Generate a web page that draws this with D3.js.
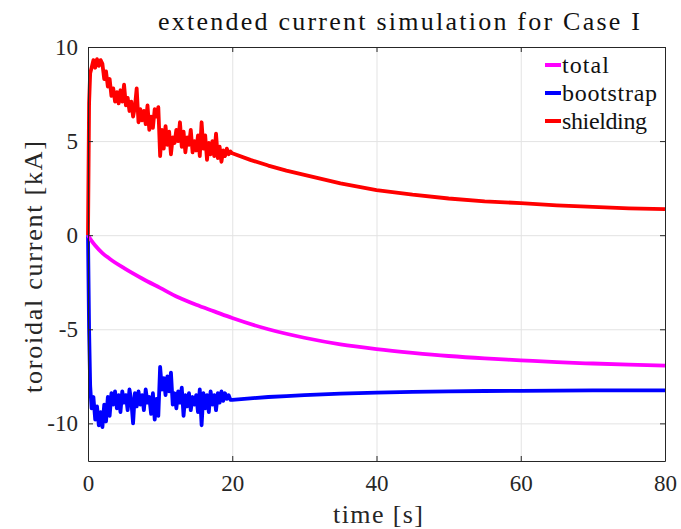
<!DOCTYPE html>
<style>
body { margin: 0; background: #fff; }
svg text { font-family: "Liberation Serif", "DejaVu Serif", serif; }
.grid line { stroke: #e3e3e3; stroke-width: 1; }
.grid .domain { display: none; }
.axis text { font-size: 23px; fill: #262626; font-family: "Liberation Serif", serif; }
.axis line, .axis path { stroke: #262626; }
</style>
<svg width="681" height="529"></svg>
<script src="https://d3js.org/d3.v7.min.js"></script>
<script>
// time samples of the noisy phase (0 - 19.5 s) and the smooth decay after it
var timeEarly = [0, 0.15, 0.3, 0.5, 0.75, 1, 1.25, 1.5, 1.75, 2, 2.25, 2.5, 2.75, 3, 3.25, 3.5, 3.75, 4,
    4.25, 4.5, 4.75, 5, 5.25, 5.5, 5.75, 6, 6.25, 6.5, 6.75, 7, 7.25, 7.5, 7.75, 8, 8.25, 8.5, 8.75, 9,
    9.25, 9.5, 9.75, 10, 10.25, 10.5, 10.75, 11, 11.25, 11.5, 11.75, 12, 12.25, 12.5, 12.75, 13, 13.25,
    13.5, 13.75, 14, 14.25, 14.5, 14.75, 15, 15.25, 15.5, 15.75, 16, 16.25, 16.5, 16.75, 17, 17.25, 17.5,
    17.75, 18, 18.25, 18.5, 18.75, 19, 19.25, 19.5];
var timeLate = [19.75, 20, 22.5, 25, 27.5, 30, 35, 40, 45, 50, 55, 60, 65, 70, 75, 80];

var shieldingEarly = [0, 7.0, 8.6, 8.9, 9.3, 8.9, 9.35, 9.0, 9.3, 9.1, 8.3, 8.7, 7.9, 8.3, 7.4, 7.8, 7.1, 7.6,
    7.0, 7.7, 7.1, 8.0, 6.9, 7.3, 6.6, 7.1, 6.3, 6.8, 7.8, 6.0, 6.7, 6.1, 6.6, 5.9, 6.9, 5.6, 6.3, 5.7,
    6.7, 6.3, 6.8, 4.2, 5.6, 4.6, 5.8, 4.8, 5.5, 4.3, 5.2, 4.9, 5.6, 5.0, 6.0, 4.7, 5.5,
    4.4, 5.2, 4.8, 5.6, 4.4, 5.0, 4.5, 5.3, 4.2, 6.0, 4.6, 5.3, 4.0, 4.9, 4.3, 5.0, 4.2,
    5.4, 4.1, 4.7, 3.9, 4.5, 4.2, 4.6, 4.3];
var shieldingLate = [4.45, 4.35, 4.0, 3.7, 3.43, 3.2, 2.75, 2.4, 2.15, 1.95, 1.8, 1.7, 1.58, 1.5, 1.42, 1.38];

var bootstrapEarly = [0, -5.0, -8.0, -9.2, -8.6, -9.8, -9.1, -10.1, -9.4, -10.2, -9.0, -9.9, -8.6, -9.6, -8.4, -9.0, -8.3, -9.2,
    -8.5, -9.4, -8.3, -8.9, -8.5, -9.3, -8.2, -8.8, -10.0, -8.4, -9.1, -8.3, -9.0, -8.5, -9.3, -8.2, -8.9, -8.6, -9.5, -8.4,
    -9.8, -8.7, -9.6, -7.0, -8.2, -7.6, -8.5, -7.5, -8.3, -7.3, -9.0, -8.4, -9.2, -8.3, -8.9, -8.1, -9.6,
    -8.5, -9.1, -8.4, -9.3, -8.6, -9.0, -8.5, -9.4, -8.2, -10.1, -8.4, -9.2, -8.5, -9.4, -8.3, -9.0, -8.5,
    -9.3, -8.4, -8.9, -8.3, -8.8, -8.4, -8.7, -8.5];
var bootstrapLate = [-8.75, -8.75, -8.67, -8.6, -8.55, -8.5, -8.42, -8.37, -8.33, -8.3, -8.28, -8.27, -8.26, -8.25, -8.25, -8.25];

var timeTotal = [0, 0.5, 1, 2, 3, 5, 7.5, 10, 12.5, 15, 17.5, 20, 25, 30, 35, 40, 45, 50, 55, 60, 65, 70, 75, 80];
var total = [0, -0.3, -0.55, -0.95, -1.25, -1.75, -2.3, -2.8, -3.3, -3.7, -4.05, -4.4, -5.0, -5.45, -5.8, -6.05,
    -6.25, -6.42, -6.55, -6.65, -6.75, -6.82, -6.88, -6.93];

var xTicks = [0, 20, 40, 60, 80];
var yTicks = [-10, -5, 0, 5, 10];
var legendNames = ["total", "bootstrap", "shielding"];
var legendWidths = [47, 95, 85];
var colors = ["#ff00ff", "#0000ff", "#ff0000"];

var svg = d3.select("svg"),
    margin = {top: 47, right: 15, bottom: 68, left: 88},
    width = 681, height = 529;

var x = d3.scaleLinear().domain([0, 80]).range([margin.left, width - margin.right - 1]);
var y = d3.scaleLinear().domain([-12, 10]).range([height - margin.bottom, margin.top]);

// grid
svg.append("g").attr("class", "grid")
    .attr("transform", "translate(0," + (height - margin.bottom) + ")")
    .call(d3.axisBottom(x).tickValues(xTicks).tickSize(-(y.range()[0] - y.range()[1])).tickFormat(""));
svg.append("g").attr("class", "grid")
    .attr("transform", "translate(" + margin.left + ",0)")
    .call(d3.axisLeft(y).tickValues(yTicks).tickSize(-(x.range()[1] - x.range()[0])).tickFormat(""));

function zip(ts, vs) { return ts.map(function(t, i) { return [t, vs[i]]; }); }

var series = [
    zip(timeTotal, total),
    zip(timeEarly.concat(timeLate), bootstrapEarly.concat(bootstrapLate)),
    zip(timeEarly.concat(timeLate), shieldingEarly.concat(shieldingLate))
];

var line = d3.line()
    .x(function(d) { return x(d[0]); })
    .y(function(d) { return y(d[1]); });

var drawOrder = [2, 1, 0];
drawOrder.forEach(function(i) {
    svg.append("path")
        .datum(series[i])
        .attr("fill", "none")
        .attr("stroke", colors[i])
        .attr("stroke-width", 3.8)
        .attr("stroke-linejoin", "round")
        .attr("d", i === 0 ? line.curve(d3.curveMonotoneX)(series[i]) : line.curve(d3.curveLinear)(series[i]));
});

// axes, ticks inward like matlab
var fmt = function(d) { return d < 0 ? "-" + Math.abs(d) : d; };
svg.append("g").attr("class", "axis")
    .attr("transform", "translate(0," + (height - margin.bottom) + ")")
    .call(d3.axisBottom(x).tickValues(xTicks).tickSizeInner(-5).tickSizeOuter(0).tickPadding(14));
svg.append("g").attr("class", "axis")
    .attr("transform", "translate(" + margin.left + ",0)")
    .call(d3.axisLeft(y).tickValues(yTicks).tickFormat(fmt).tickSizeInner(-5).tickSizeOuter(0).tickPadding(10));
svg.append("g").attr("class", "axis")
    .attr("transform", "translate(0," + margin.top + ")")
    .call(d3.axisTop(x).tickValues(xTicks).tickSizeInner(-5).tickSizeOuter(0).tickFormat(""));
svg.append("g").attr("class", "axis")
    .attr("transform", "translate(" + x.range()[1] + ",0)")
    .call(d3.axisRight(y).tickValues(yTicks).tickSizeInner(-5).tickSizeOuter(0).tickFormat(""));

// titles
svg.append("text")
    .attr("x", 399).attr("y", 30)
    .attr("text-anchor", "middle")
    .attr("font-size", 26)
    .attr("textLength", 482).attr("lengthAdjust", "spacing")
    .attr("fill", "#111")
    .text("extended current simulation for Case I");
svg.append("text")
    .attr("x", 378).attr("y", 523)
    .attr("text-anchor", "middle")
    .attr("font-size", 26)
    .attr("textLength", 90).attr("lengthAdjust", "spacing")
    .attr("fill", "#262626")
    .text("time [s]");
svg.append("text")
    .attr("transform", "translate(42,267) rotate(-90)")
    .attr("text-anchor", "middle")
    .attr("font-size", 26)
    .attr("textLength", 252).attr("lengthAdjust", "spacing")
    .attr("fill", "#262626")
    .text("toroidal current [kA]");

// legend
var legend = svg.append("g").attr("transform", "translate(545,65)");
legendNames.forEach(function(name, i) {
    var row = legend.append("g").attr("transform", "translate(0," + (i * 28) + ")");
    row.append("line").attr("x1", 0).attr("x2", 16).attr("y1", 0).attr("y2", 0)
        .attr("stroke", colors[i]).attr("stroke-width", 4);
    row.append("text").attr("x", 17).attr("y", 0).attr("dy", "0.32em")
        .attr("font-size", 24)
        .attr("textLength", legendWidths[i]).attr("lengthAdjust", "spacing")
        .attr("fill", "#111").text(name);
});
</script>
